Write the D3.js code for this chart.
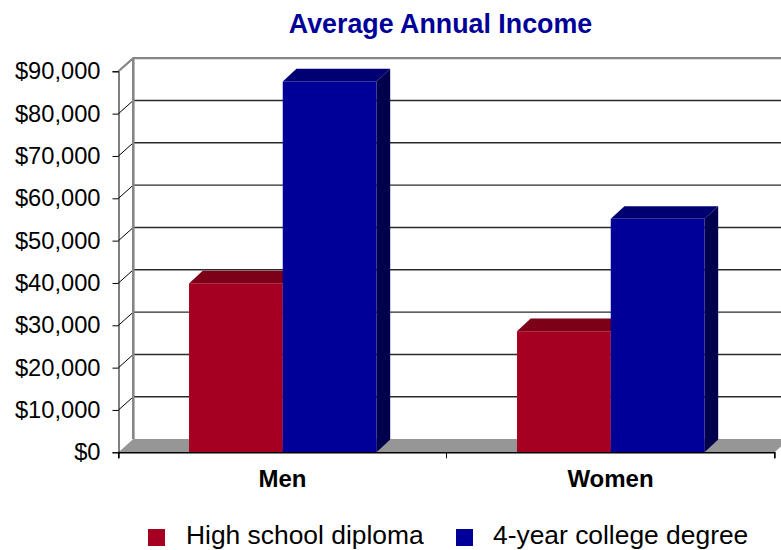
<!DOCTYPE html>
<html>
<head>
<meta charset="utf-8">
<script src="https://cdn.jsdelivr.net/npm/d3@7"></script>
<style>
html, body { margin: 0; padding: 0; background: #fff; overflow: hidden; }
text { font-family: "Liberation Sans", Arial, sans-serif; fill: #000; }
</style>
</head>
<body>
<svg id="drawing_region"></svg>
<script>
const categories = ["Men", "Women"];
const seriesNames = ["High school diploma", "4-year college degree"];
const highSchool = [39900, 28600];
const college = [87600, 55150];
const yTicks = [0, 10000, 20000, 30000, 40000, 50000, 60000, 70000, 80000, 90000];

const config = {
    width: 781,
    height: 550,
    margin: { top: 71.3, right: 6.5, bottom: 97.7, left: 118.5 },
    depth: { x: 14.8, y: 13.2 },
    barDepth: { x: 13.7, y: 12.7 }
};
const colors = [
    { front: "#a50021", top: "#7b0018", side: "#5a0012" },
    { front: "#000099", top: "#000073", side: "#00004d" }
];

const innerW = config.width - config.margin.left - config.margin.right;
const innerH = config.height - config.margin.top - config.margin.bottom;
const dx = config.depth.x, dy = config.depth.y;

const svg = d3.select("#drawing_region")
    .attr("width", config.width)
    .attr("height", config.height)
    .style("display", "block");

const chart = svg.append("g")
    .attr("transform", `translate(${config.margin.left},${config.margin.top})`);

const yscale = d3.scaleLinear().domain([0, 90000]).range([innerH, 0]);
const xscale = d3.scaleBand().domain(categories).range([0, innerW]).paddingInner(0).paddingOuter(0);
const subscale = d3.scaleBand().domain(d3.range(seriesNames.length))
    .range([70.5, 258]);

// back wall grid, the slanted bit runs from the axis to the wall
const grid = chart.append("g");
grid.selectAll("line.flat").data(yTicks.slice(1, -1)).enter().append("line")
    .attr("x1", dx).attr("x2", innerW + dx)
    .attr("y1", d => yscale(d) - dy).attr("y2", d => yscale(d) - dy)
    .attr("stroke", "#2a2a2a").attr("stroke-width", 1.4);
grid.selectAll("line.slant").data(yTicks.slice(1, -1)).enter().append("line")
    .attr("x1", 0).attr("x2", dx)
    .attr("y1", d => yscale(d)).attr("y2", d => yscale(d) - dy)
    .attr("stroke", "#000").attr("stroke-width", 1);

// wall edges
chart.append("path")
    .attr("d", `M0,${yscale(90000)}L${dx},${yscale(90000) - dy}H${innerW + dx}`)
    .attr("fill", "none").attr("stroke", "#868686").attr("stroke-width", 2.2);
chart.append("line")
    .attr("x1", dx).attr("x2", dx)
    .attr("y1", yscale(90000) - dy).attr("y2", yscale(0) - dy)
    .attr("stroke", "#868686").attr("stroke-width", 2.6);

// floor
chart.append("path")
    .attr("d", `M0,${yscale(0)}L${dx},${yscale(0) - dy}H${innerW + dx}L${innerW},${yscale(0)}Z`)
    .attr("fill", "#969696");

// bars: series by series so the blue one covers the red one's top
[highSchool, college].forEach((values, s) => {
    const g = chart.append("g");
    const x0 = (d, i) => xscale(categories[i]) + subscale(s);
    const w = subscale.bandwidth();
    const bx = config.barDepth.x, by = config.barDepth.y;
    g.selectAll("path.side").data(values).enter().append("path")
        .attr("fill", colors[s].side)
        .attr("d", (d, i) => `M${x0(d, i) + w},${yscale(d)}l${bx},${-by}V${yscale(0) - by}L${x0(d, i) + w},${yscale(0)}Z`);
    g.selectAll("path.top").data(values).enter().append("path")
        .attr("fill", colors[s].top)
        .attr("d", (d, i) => `M${x0(d, i)},${yscale(d)}l${bx},${-by}h${w}l${-bx},${by}Z`);
    g.selectAll("rect").data(values).enter().append("rect")
        .attr("x", x0)
        .attr("y", d => yscale(d))
        .attr("width", w)
        .attr("height", d => yscale(0) - yscale(d))
        .attr("fill", colors[s].front);
});

// axes
const yaxis = d3.axisLeft(yscale).tickValues(yTicks).tickSize(6).tickPadding(12)
    .tickFormat(d => "$" + d3.format(",")(d));
const yaxis_group = chart.append("g").call(yaxis);
yaxis_group.selectAll("text").attr("font-size", 23.7).style("font-family", '"Liberation Sans", Arial, sans-serif');

const xaxis = d3.axisBottom(xscale).tickSize(6).tickSizeOuter(6).tickFormat("");
const xaxis_group = chart.append("g")
    .attr("transform", `translate(0,${innerH})`)
    .call(xaxis);
xaxis_group.select(".domain").attr("stroke-width", 1.4);
// category boundaries get the ticks, not the band centres
xaxis_group.selectAll(".tick").remove();
xaxis_group.selectAll("line.sep").data(d3.range(categories.length + 1)).enter().append("line")
    .attr("x1", d => d * xscale.step()).attr("x2", d => d * xscale.step())
    .attr("y1", 0).attr("y2", 6).attr("stroke", "#000");
xaxis_group.selectAll("text.cat").data(categories).enter().append("text")
    .attr("class", "cat")
    .attr("x", d => xscale(d) + xscale.bandwidth() / 2)
    .attr("y", 35)
    .attr("text-anchor", "middle")
    .attr("font-size", 24)
    .attr("font-weight", "bold")
    .text(d => d);

// title
svg.append("text")
    .attr("x", 440.5).attr("y", 33)
    .attr("text-anchor", "middle")
    .attr("font-size", 26.8)
    .attr("font-weight", "bold")
    .style("fill", "#000099")
    .text("Average Annual Income");

// legend
const legendX = [148, 456];
const legend = svg.append("g");
legend.selectAll("rect").data(seriesNames).enter().append("rect")
    .attr("x", (d, i) => legendX[i]).attr("y", 529)
    .attr("width", 17).attr("height", 17)
    .attr("fill", (d, i) => colors[i].front);
legend.selectAll("text").data(seriesNames).enter().append("text")
    .attr("x", (d, i) => legendX[i] + (i === 0 ? 38 : 37)).attr("y", 544.4)
    .attr("font-size", 26.4)
    .text(d => d);
</script>
</body>
</html>
